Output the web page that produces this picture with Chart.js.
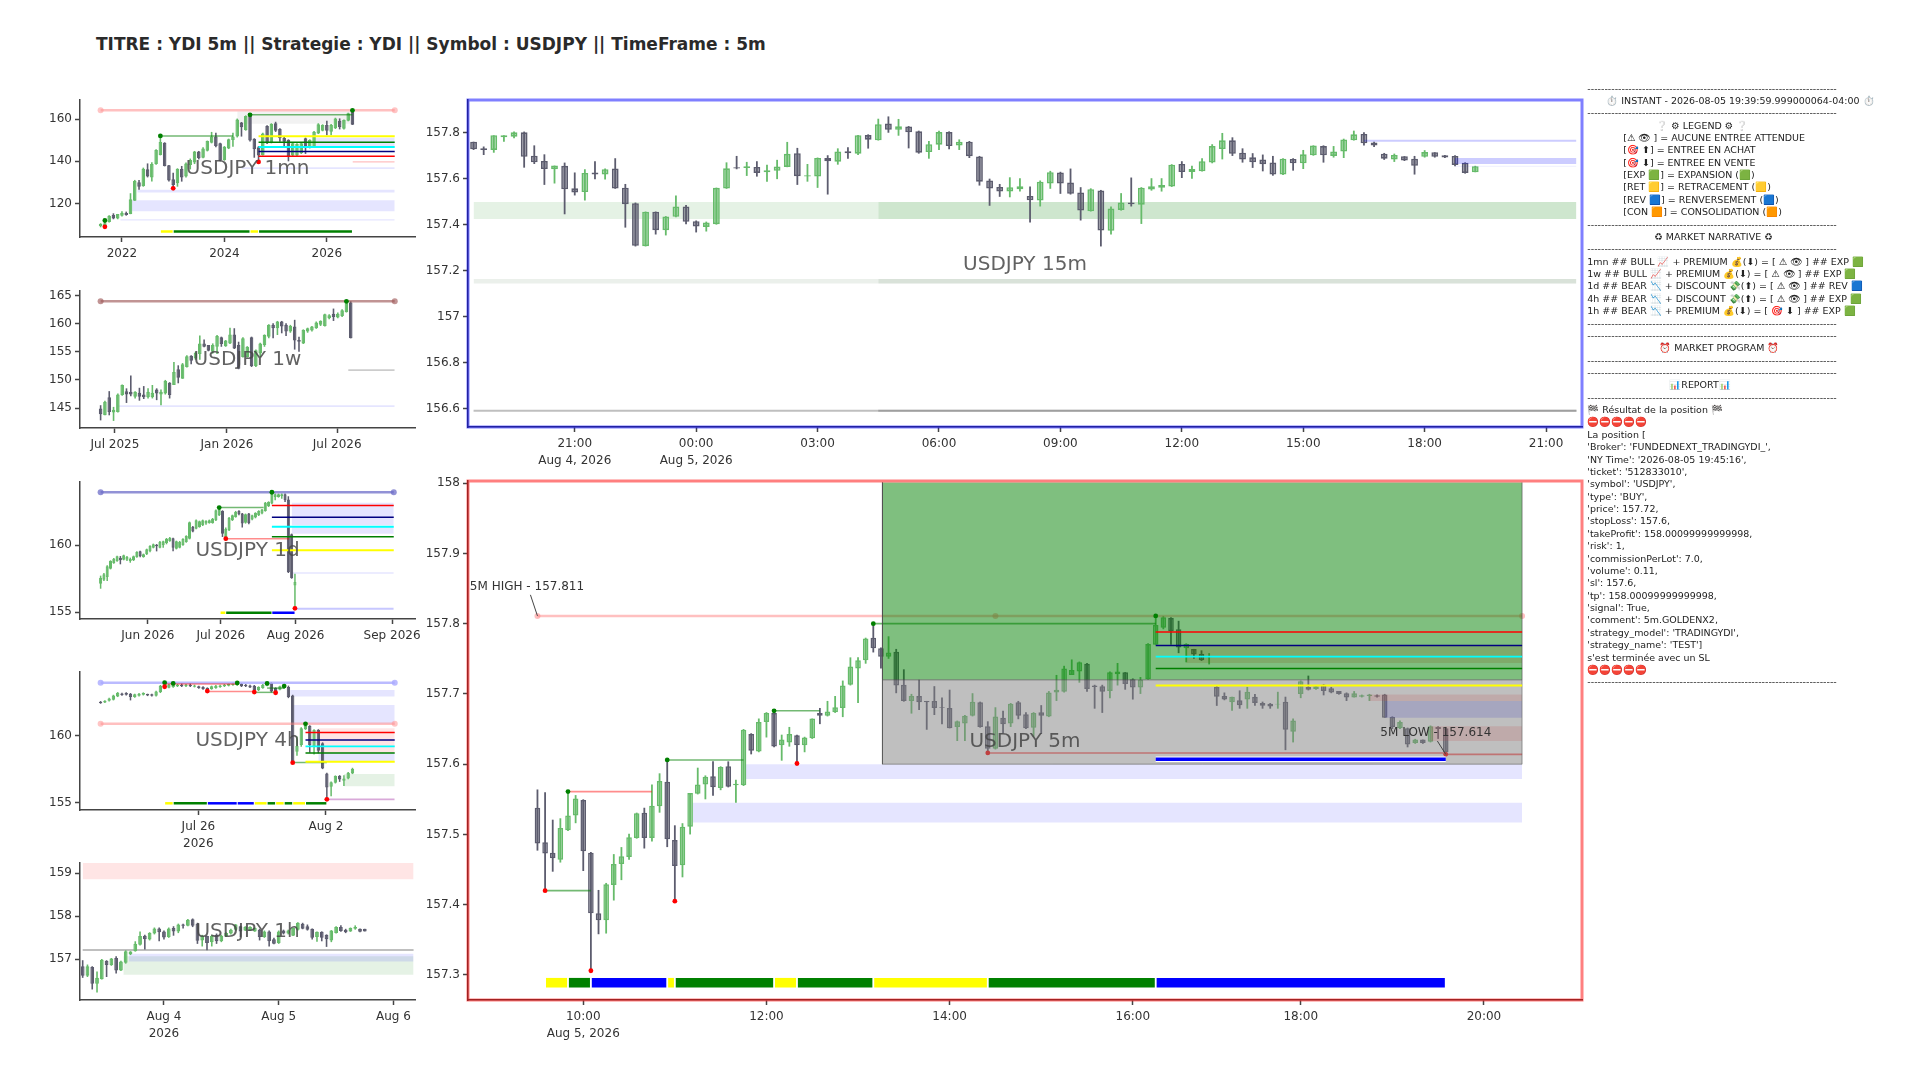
<!DOCTYPE html>
<html>
<head>
<meta charset="utf-8">
<title>USDJPY 5m</title>
<script src="https://cdn.jsdelivr.net/npm/chart.js@4/dist/chart.umd.js"></script>
<style>
  html, body { margin: 0; background: #fff; }
  body { position: relative; width: 1920px; height: 1080px; overflow: hidden; font-family: "DejaVu Sans", sans-serif; }
  canvas { position: absolute; }
  #title { position: absolute; left: 96px; top: 34px; font-size: 17px; font-weight: bold; color: #2a2a2a; white-space: nowrap; }
  .panel { position: absolute; font-size: 9.47px; line-height: 12px; color: #222; white-space: pre; }
</style>
</head>
<body>
<div id="title">TITRE : YDI 5m || Strategie : YDI || Symbol : USDJPY || TimeFrame : 5m</div>
<canvas id="c1mn"></canvas>
<canvas id="c1w"></canvas>
<canvas id="c1d"></canvas>
<canvas id="c4h"></canvas>
<canvas id="c1h"></canvas>
<canvas id="c15m"></canvas>
<canvas id="c5m"></canvas>
<script>
// ---------- 15m ----------
const m15Open = [157.762,157.733,157.726,157.781,157.784,157.803,157.701,157.678,157.642,157.657,157.559,157.543,157.628,157.619,157.645,157.562,157.494,157.307,157.457,157.377,157.435,157.48,157.416,157.391,157.403,157.558,157.651,157.648,157.652,157.629,157.635,157.652,157.712,157.61,157.61,157.691,157.675,157.72,157.71,157.791,157.768,157.841,157.814,157.828,157.807,157.717,157.749,157.804,157.745,157.762,157.697,157.593,157.565,157.545,157.555,157.526,157.506,157.58,157.628,157.584,157.541,157.459,157.549,157.374,157.465,157.497,157.488,157.554,157.562,157.567,157.665,157.63,157.633,157.671,157.73,157.768,157.714,157.694,157.684,157.671,157.619,157.687,157.668,157.703,157.743,157.7,157.719,157.768,157.796,157.759,157.71,157.684,157.699,157.688,157.696,157.716,157.703,157.7,157.67,157.629];
const m15High = [157.762,157.741,157.79,157.79,157.806,157.806,157.746,157.707,157.658,157.671,157.628,157.642,157.677,157.645,157.69,157.578,157.497,157.458,157.458,157.438,157.528,157.486,157.419,157.414,157.562,157.672,157.7,157.674,157.677,157.662,157.683,157.761,157.735,157.665,157.693,157.703,157.733,157.738,157.791,157.794,157.862,157.872,157.861,157.83,157.81,157.765,157.81,157.807,157.772,157.765,157.7,157.601,157.578,157.607,157.603,157.567,157.593,157.635,157.631,157.645,157.564,157.559,157.552,157.48,157.538,157.606,157.564,157.603,157.603,157.664,157.677,157.657,157.69,157.751,157.8,157.781,157.733,157.712,157.706,157.7,157.69,157.69,157.726,157.746,157.746,157.743,157.775,157.81,157.803,157.762,157.713,157.71,157.699,157.7,157.725,157.716,157.704,157.703,157.672,157.657];
const m15Low = [157.726,157.704,157.714,157.762,157.777,157.649,157.665,157.574,157.58,157.446,157.528,157.506,157.599,157.597,157.557,157.388,157.306,157.306,157.358,157.354,157.433,157.403,157.367,157.371,157.401,157.557,157.642,157.613,157.61,157.588,157.599,157.651,157.574,157.588,157.561,157.532,157.662,157.688,157.704,157.732,157.767,157.801,157.788,157.733,157.71,157.688,157.726,157.729,157.726,157.691,157.571,157.483,157.522,157.52,157.545,157.41,157.48,157.557,157.535,157.532,157.419,157.458,157.306,157.358,157.462,157.48,157.404,157.549,157.545,157.565,157.604,157.601,157.632,157.668,157.685,157.7,157.671,157.648,157.633,157.614,157.617,157.636,157.643,157.701,157.671,157.693,157.691,157.767,157.745,157.739,157.683,157.674,157.678,157.619,157.693,157.693,157.691,157.655,157.623,157.629];
const m15Close = [157.729,157.726,157.79,157.79,157.803,157.696,157.672,157.643,157.658,157.555,157.541,157.626,157.619,157.642,157.558,157.49,157.309,157.457,157.377,157.436,157.48,157.413,157.393,157.41,157.561,157.646,157.645,157.655,157.626,157.638,157.654,157.709,157.612,157.616,157.691,157.677,157.719,157.712,157.79,157.771,157.838,157.814,157.829,157.803,157.714,157.751,157.804,157.743,157.762,157.699,157.588,157.558,157.545,157.564,157.568,157.507,157.588,157.629,157.58,157.535,157.462,157.555,157.375,157.471,157.497,157.49,157.562,157.568,157.574,157.662,157.63,157.643,157.677,157.743,157.768,157.709,157.684,157.672,157.664,157.619,157.688,157.668,157.707,157.745,157.703,157.719,157.772,157.794,157.755,157.745,157.688,157.704,157.68,157.657,157.717,157.696,157.693,157.661,157.626,157.655];
const m15XTicks = [10,22,34,46,58,70,82,94,106];
const m15XLabels = [['21:00','Aug 4, 2026'],['00:00','Aug 5, 2026'],'03:00','06:00','09:00','12:00','15:00','18:00','21:00'];
const m15YTicks = [157.8,157.6,157.4,157.2,157,156.8,156.6];
const m15GreenZones = [[0,109,157.5,157.426],[40,109,157.5,157.426]];
const m15StripZones = [[0,109,157.164,157.145],[40,109,157.164,157.145]];
const m15BlueZones = [[88,109,157.77,157.762],[97,109,157.691,157.665]];
const m15PaleZones = [[97,109,157.657,157.652]];
const m15GrayLines = [[0,109,156.591],[40,109,156.591]];

// ---------- 5m ----------
const m5First = -6;
const m5Open = [157.538,157.489,157.474,157.464,157.506,157.527,157.549,157.474,157.388,157.378,157.428,157.458,157.468,157.495,157.531,157.495,157.54,157.575,157.492,157.456,157.511,157.558,157.571,157.583,157.566,157.597,157.57,157.57,157.643,157.618,157.66,157.673,157.627,157.631,157.641,157.627,157.637,157.673,157.669,157.674,157.68,157.713,157.736,157.748,157.78,157.765,157.753,157.76,157.713,157.69,157.697,157.69,157.69,157.681,157.68,157.653,157.658,157.669,157.688,157.654,157.622,157.666,157.658,157.688,157.671,157.652,157.674,157.668,157.702,157.703,157.727,157.732,157.743,157.712,157.711,157.704,157.728,157.731,157.721,157.709,157.721,157.77,157.794,157.808,157.792,157.765,157.764,157.757,157.752,157.71,157.697,157.688,157.691,157.692,157.696,157.687,157.686,157.685,157.689,157.646,157.7,157.71,157.707,157.713,157.708,157.704,157.701,157.695,157.696,157.697,157.698,157.699,157.667,157.651,157.651,157.63,157.635,157.632,157.653,157.651];
const m5High = [157.564,157.56,157.521,157.523,157.561,157.556,157.55,157.475,157.421,157.431,157.472,157.482,157.501,157.531,157.538,157.571,157.587,157.606,157.513,157.516,157.559,157.595,157.584,157.604,157.597,157.604,157.578,157.65,157.644,157.665,157.674,157.676,157.642,157.653,157.642,157.639,157.665,157.68,157.69,157.697,157.719,157.752,157.752,157.78,157.8,157.766,157.782,157.764,157.735,157.7,157.72,157.69,157.711,157.695,157.706,157.662,157.67,157.701,157.689,157.661,157.681,157.676,157.687,157.69,157.674,157.674,157.684,157.704,157.727,157.74,157.749,157.746,157.744,157.713,157.713,157.732,157.744,157.731,157.722,157.724,157.772,157.811,157.811,157.809,157.804,157.772,157.764,157.762,157.758,157.711,157.702,157.696,157.705,157.71,157.7,157.689,157.687,157.703,157.696,157.665,157.719,157.726,157.712,157.714,157.71,157.704,157.702,157.704,157.699,157.7,157.699,157.7,157.668,157.662,157.652,157.636,157.635,157.655,157.654,157.653];
const m5Low = [157.477,157.42,157.447,157.46,157.505,157.516,157.448,157.306,157.358,157.359,157.406,157.435,157.464,157.494,157.48,157.49,157.531,157.482,157.405,157.439,157.5,157.557,157.55,157.555,157.563,157.567,157.545,157.569,157.614,157.617,157.638,157.624,157.605,157.625,157.601,157.617,157.636,157.657,157.668,157.673,157.667,157.712,157.687,157.743,157.759,157.736,157.75,157.701,157.689,157.672,157.677,157.649,157.67,157.657,157.651,157.633,157.633,157.668,157.652,157.616,157.621,157.644,157.653,157.664,157.65,157.639,157.643,157.667,157.69,157.702,157.727,157.716,157.703,157.679,157.673,157.694,157.712,157.706,157.692,157.7,157.72,157.77,157.792,157.77,157.758,157.745,157.75,157.747,157.742,157.683,157.691,157.676,157.679,157.679,157.683,157.679,157.679,157.679,157.62,157.631,157.694,157.705,157.706,157.698,157.701,157.699,157.69,157.695,157.695,157.69,157.695,157.666,157.65,157.65,157.624,157.629,157.629,157.631,157.636,157.614];
const m5Close = [157.487,157.473,157.466,157.509,157.527,157.551,157.476,157.388,157.378,157.429,157.458,157.469,157.496,157.53,157.495,157.541,157.576,157.493,157.455,157.511,157.559,157.571,157.582,157.567,157.596,157.568,157.572,157.649,157.619,157.66,157.673,157.625,157.635,157.643,157.627,157.638,157.665,157.669,157.675,157.681,157.712,157.739,157.748,157.779,157.765,157.753,157.759,157.712,157.69,157.697,157.688,157.688,157.68,157.68,157.651,157.661,157.669,157.689,157.653,157.622,157.668,157.657,157.686,157.669,157.651,157.673,157.669,157.702,157.706,157.736,157.734,157.745,157.707,157.71,157.703,157.731,157.732,157.714,157.709,157.72,157.771,157.798,157.809,157.789,157.766,157.771,157.756,157.748,157.754,157.696,157.692,157.696,157.684,157.703,157.687,157.683,157.682,157.686,157.649,157.662,157.718,157.706,157.711,157.704,157.702,157.7,157.695,157.701,157.698,157.699,157.696,157.666,157.653,157.66,157.628,157.635,157.63,157.654,157.65,157.617];
const m5XTicks = [0,24,48,72,94,118];
const m5XLabels = [['10:00','Aug 5, 2026'],'12:00','14:00','16:00','18:00','20:00'];
const m5YTicks = [158,157.9,157.8,157.7,157.6,157.5,157.4,157.3];
const m5Reward = [39.2,123,158.001,157.72];
const m5Risk = [39.2,123,157.72,157.6];
const m5LavZones = [[21.3,123,157.6,157.579],[14.3,123,157.545,157.517]];
const m5RedZones = [[79,123,157.769,157.744],[103,123,157.699,157.69],[111,123,157.654,157.633]];
const m5BlueZones = [[105,123,157.69,157.666]];
const m5HighLine = [-6,123,157.811];
const m5HighDots = [[-6,157.811],[54,157.811],[123,157.811]];
const m5LowLine = [[53,113,157.616],[113,123,157.614]];
const m5GreenLines = [[-5,1,157.42],[11,21,157.606],[25,31,157.676],[38,75,157.8]];
const m5RedLines = [[-2,9,157.561]];
const m5GreenDots = [[-2,157.561],[11,157.606],[25,157.676],[38,157.8],[75,157.811]];
const m5RedDots = [[-5,157.42],[1,157.306],[12,157.405],[28,157.601],[53,157.616],[113,157.614]];
const m5Levels = [157.788,157.769,157.753,157.736,157.712];
const m5Segments = [[-5,-2],[-2,1],[1,11],[11,12],[12,25],[25,28],[28,38],[38,53],[53,75],[75,113]];
const m5SegKinds = ['y','g','b','y','g','y','g','y','g','b'];
const m5SegPrice = 157.289;
const m5Position = [75,113,157.607];
const m5HighLeader = [[-6.92,157.841],[-6,157.811]];
const m5LowLeader = [[111.9,157.633],[113,157.614]];

// ---------- 1mn ----------
const mnOpen = [109.4,109.4,111.3,114.6,112.9,114.2,115.6,115.1,121.4,130.1,128.3,136.2,132.4,138.7,143,148.8,138.1,131.5,129.6,136.4,132.8,138.3,139.4,144.6,141.7,145,148.8,151.7,148.5,140.6,146.1,150.1,151.7,158.3,154.8,161.9,150.7,146.6,143,156.7,148.8,158,155.3,151,150.1,142.7,142.8,143.8,150.9,146.6,146.6,153.2,154.5,157.2,154,155.6,159.2,155.4,159.2,164.3];
const mnHigh = [110.7,112,114.5,115.4,115.1,116.4,116.2,124.9,131.2,131.2,137,139,139.5,145.7,152,149,138.3,134.6,136.7,137.8,139.4,141.3,144.9,144.9,146.6,149.8,153.9,153.5,148.8,147.2,150.7,153.5,160.2,158.6,161.7,162.4,150.9,147.2,153.5,157,158,158.7,155.6,151.7,150.4,148.8,148.5,148.8,151.2,150.4,154.3,158,157.5,159.2,157.6,160.6,160.3,159.8,163,164.3];
const mnLow = [108.8,109.1,111,112.6,112.6,113.9,114.3,115,121.3,126.5,128,132.4,130.4,138.4,142.8,137.6,130.4,127.2,128,130.4,132.4,136.2,138.7,140.9,141.4,144.7,148.5,146.6,140,140.3,145.8,146.9,151.3,151.7,154.5,149.4,141.7,139.7,142.8,148.2,148.5,153.9,149.3,146.9,140,142.2,142.5,143.5,143.5,146.1,146.3,152.9,154.2,152.3,152.3,155.3,155.1,155.1,158.9,157.2];
const mnClose = [110.4,110.7,114.2,113,115.1,115.7,114.6,122,130.7,128,136.5,132.8,138.7,145.4,149.1,137.8,130.9,128.8,136.4,132.4,139,140.6,144.6,141.4,146.1,149.6,151.7,147.2,140.3,146.9,150.4,151.7,159.8,156.1,161.4,149.8,145.7,142.8,153.2,148.5,157.6,154.5,150.9,149.3,142.5,148.5,148.2,148.5,146.9,150.1,154,157.5,157.2,154.5,157.3,160.3,156.1,159.5,162.7,157.3];
const mnXTicks = [5,29,53];
const mnXLabels = ['2022','2024','2026'];
const mnYTicks = [160,140,120];
const mnGrayZones = [[32,59,163.6,157.8]];
const mnLavZones = [[50,68.9,151.2,146.7],[33,68.9,137.2,136.4],[8.6,68.9,126.5,125.2],[7.3,68.9,121.6,116.4],[4.6,68.9,112.6,112]];
const mnPinkZones = [[59,68.9,140,139.4]];
const mnHighLine = [0,68.9,164.1];
const mnHighDots = [[0,164.1],[68.9,164.1]];
const mnGreenLines = [[14,31,152],[35,59,162]];
const mnGreenDots = [[1,112],[14,152],[35,162],[59,164.1]];
const mnRedDots = [[1,109],[17,127.2],[37,139.7]];
const mnLevels = [142.4,144.7,146.8,149,151.8];
const mnLevelStart = 37;
const mnSegments = [[14,17],[17,35],[35,37],[37,59]];
const mnSegKinds = ['y','g','y','g'];
const mnSegPrice = 106.8;

// ---------- 1w ----------
const wkOpen = [144.9,143.7,146.9,144.2,144.3,147.3,148,147.9,147,147.7,147.4,146.9,146.9,148.3,147.4,147.6,149.5,149.1,151.9,150.2,152.3,154.3,153.8,154.6,156.5,156.2,155,155.9,157.6,156,156.5,158.1,156.2,154.1,154.1,157.6,152.5,154.7,156.2,157.7,159.8,159.2,160.4,159.8,158.6,159.5,157.1,156.5,158.6,158.8,159.2,159.8,159.6,161,161.8,161.1,161.4,162.1,163.8];
const wkHigh = [145.5,146.3,148,145.2,147.6,149.2,148.5,150.8,148,148.6,148.9,148.5,149.1,148.5,148.3,150,149.6,153.2,152.6,153,154.4,154.4,155,157.9,157.2,156.2,156.5,158,157.7,157.1,159.3,159.2,156.8,157.6,156,157.7,155.4,156.6,158.1,159.9,160.1,160.5,160.5,160.1,159.8,160.7,157.7,159,159.3,159.6,160.4,160.6,161.8,161.7,162.7,162,162.6,164.1,164];
const wkLow = [142.8,143.7,143.7,142.7,144.2,147.2,145.9,147.1,146.7,146.3,146.6,146.7,146.7,146.4,145.5,147.4,146.7,149.1,149.4,150.2,152.2,152.8,153.6,153.6,155.8,155.1,154.7,154.6,155.9,155.9,156.4,155.5,151.9,154,154,152.3,152.3,154.1,155.9,157.4,157.4,158,158.3,157.8,158.4,155.4,155,156.4,158.4,158.6,159.1,159.6,159.5,160.8,160.5,161,161.2,162,157.4];
const wkClose = [143.9,146.1,144.3,144.7,147.4,149.1,147.4,147.4,147.9,147,146.9,147.9,147.7,147.6,147.9,149.8,147.3,151.4,150.4,152.8,154.2,153.4,154.8,156.5,155.9,155.2,156.2,157.8,156.4,157,158.1,155.6,152,157.4,155.9,152.5,155.3,156.5,158,159.8,159.2,160.4,159.5,158.6,159.6,157,156.8,158.9,159.2,159.5,160.2,160.5,161.7,161.5,161.2,161.8,162.4,163.9,157.4];
const wkXTicks = [3.32,29.3,54.86];
const wkXLabels = ['Jul 2025','Jan 2026','Jul 2026'];
const wkYTicks = [165,160,155,150,145];
const wkGrayZones = [[57.4,68.2,151.9,151.6]];
const wkLavZones = [[3.8,68.2,145.5,145.2]];
const wkHighLine = [0,68.2,164];
const wkHighDots = [[0,164],[68.2,164]];
const wkGreenDots = [[57,164]];

// ---------- 1d ----------
const dyOpen = [157.13,157.43,157.63,158.25,158.68,158.83,159.08,158.93,158.93,158.83,158.88,159.13,159.55,159.13,159.33,159.55,159.83,160.05,159.83,160,160.18,160.33,160.53,159.75,159.83,160.03,160.25,160.5,161.38,161.25,161.38,161.5,161.63,161.68,161.68,161.88,162.25,162.58,160.5,161.13,161.88,162.13,162.58,162.38,161.7,162.38,161.93,162.08,162.25,162.38,162.58,162.93,163.13,163.63,163.63,163.68,163.83,163.43,160.83,157];
const dyHigh = [157.73,157.93,158.5,158.88,159.05,159.23,159.2,159.3,159.2,159.08,159.23,159.55,159.6,159.38,159.75,160,160.13,160.1,160.33,160.35,160.55,160.63,160.58,160.35,160.33,160.53,160.75,161.78,161.45,161.93,161.85,161.93,161.88,161.93,162.05,162.68,162.83,162.63,161.33,162.13,162.3,162.58,162.63,162.43,162.38,162.43,162.3,162.48,162.63,162.73,163.25,163.3,163.98,163.88,163.88,163.88,163.88,163.68,160.88,157.88];
const dyLow = [156.75,157.33,157.33,158.2,158.63,158.78,158.58,158.88,158.83,158.7,158.83,159.08,159.1,159.08,159.28,159.48,159.78,159.55,159.78,159.83,160.08,160.28,159.55,159.7,159.78,159.98,160.2,160.45,160.98,161.2,161.33,161.45,161.55,161.63,161.63,161.83,162.2,160.63,160.33,161.08,161.83,162.08,162.25,161.33,161.63,161.58,161.88,162.03,162.2,162.33,162.53,162.88,163.08,163.38,163.58,163.5,163.25,157.93,157.5,155.28];
const dyClose = [157.58,157.83,158.43,158.83,159,159.18,158.88,159.25,159.13,159,159.18,159.5,159.18,159.33,159.7,159.95,160.08,159.93,160.25,160.3,160.5,160.55,159.83,160.3,160.25,160.48,160.7,161.73,161.03,161.88,161.8,161.88,161.83,161.88,162,162.63,162.7,160.88,161.25,162.05,162.25,162.5,162.33,161.63,162.33,161.68,162.25,162.43,162.58,162.68,163.2,163.25,163.88,163.83,163.83,163.83,163.38,158,157.55,157.25];
const dyXTicks = [14.34,36.5,59.2,88.5];
const dyXLabels = ['Jun 2026','Jul 2026','Aug 2026','Sep 2026'];
const dyYTicks = [160,155];
const dyLavZones = [[58,89,163.2,161.5],[58,89,161.45,160.88],[58,89,157.98,157.88]];
const dyPurpleZones = [[59,89,155.33,155.18]];
const dyHighLine = [0,89,163.98];
const dyHighDots = [[0,163.98],[89,163.98]];
const dyGreenLines = [[36,49.5,162.83]];
const dyRedLines = [[38,57.3,160.5]];
const dyGreenDots = [[36,162.83],[52,163.98]];
const dyRedDots = [[38,160.5],[59,155.28]];
const dyLevels = [162.98,162.1,161.4,160.65,159.63];
const dyLevelStart = 52;
const dySegments = [[36.3,38],[38,52],[52,59]];
const dySegKinds = ['y','g','b'];
const dySegPrice = 154.95;

// ---------- 4h ----------
const h4Open = [162.53,162.48,162.6,162.68,162.93,163.15,163.18,163.13,162.88,162.98,163.05,163.1,163.08,162.98,163.23,163.58,163.58,163.63,163.68,163.8,163.68,163.8,163.65,163.68,163.63,163.55,163.48,163.55,163.63,163.68,163.73,163.78,163.8,163.88,163.8,163.75,163.73,163.38,163.55,163.73,163.93,163.55,163.43,163.55,163.63,163,158.8,159.3,160.48,160.73,159.18,160.43,159.43,157.18,156.18,156.48,157,156.63,156.8,157.18];
const h4High = [162.58,162.65,162.83,163.05,163.25,163.2,163.23,163.18,163.13,163.18,163.23,163.13,163.13,163.35,163.78,164.08,163.85,163.93,163.85,163.93,163.85,163.93,163.8,163.73,163.68,163.6,163.73,163.78,163.8,163.85,163.9,163.95,164.03,163.93,163.85,163.8,163.78,163.68,163.85,164.03,163.98,163.6,163.73,163.85,163.73,163.05,159.93,160.63,160.88,160.78,160.48,160.48,159.5,157.23,156.58,157.03,157.05,157.05,157.28,157.6];
const h4Low = [162.38,162.43,162.55,162.63,162.88,162.98,163,162.63,162.83,162.93,163,162.95,162.93,162.93,163.18,163.53,163.53,163.58,163.63,163.63,163.63,163.63,163.6,163.5,163.43,163.3,163.43,163.5,163.58,163.63,163.68,163.73,163.75,163.63,163.63,163.55,163.25,163.33,163.5,163.68,163.23,163.2,163.38,163.5,162.8,157.98,158.5,159.18,160.43,158.73,158.6,158.68,157.5,155.25,155.48,156.43,156.55,156.25,156.75,157.13];
const h4Close = [162.43,162.6,162.78,163,163.2,163.03,163.05,162.88,163.08,163.13,163.18,163,162.98,163.3,163.73,163.78,163.8,163.8,163.8,163.68,163.8,163.68,163.75,163.55,163.48,163.3,163.68,163.73,163.75,163.8,163.85,163.9,163.98,163.68,163.68,163.6,163.38,163.63,163.8,163.98,163.3,163.3,163.68,163.8,162.88,158,159.23,160.55,160.73,159.3,160.43,158.88,157.55,156.13,156.53,156.98,156.73,156.8,157.23,157.53];
const h4XTicks = [22.9,52.8];
const h4XLabels = [['Jul 26','2026'],'Aug 2'];
const h4YTicks = [160,155];
const h4LavZones = [[44.4,68.9,163.4,162.93],[45,68.9,162.28,160.88],[51,68.9,158.73,158.05]];
const h4PinkZones = [[51,68.9,160.55,158.73]];
const h4GreenZones = [[57,68.9,157.13,156.23]];
const h4PurpleZones = [[53,68.9,155.3,155.18]];
const h4BlueLine = [0,68.9,163.95];
const h4BlueDots = [[0,163.95],[68.9,163.95]];
const h4PinkLine = [0,68.9,160.88];
const h4PinkDots = [[0,160.88],[68.9,160.88]];
const h4GreenLines = [[36,41,163.23],[39,43,163.55],[45,53,158]];
const h4RedLines = [[15,32,163.85],[25,36,163.3]];
const h4GreenDots = [[15,163.95],[17,163.9],[32,163.93],[39,163.9],[43,163.7],[48,160.88]];
const h4RedDots = [[15,163.65],[25,163.33],[36,163.25],[41,163.2],[45,157.98],[53,155.25]];
const h4Levels = [160.23,159.68,159.2,158.7,158.05];
const h4LevelStart = 48;
const h4Segments = [[15,17],[17,25],[25,32],[32,36],[36,39],[39,41],[41,43],[43,45],[45,48],[48,53]];
const h4SegKinds = ['y','g','b','b','y','g','y','g','y','g'];
const h4SegPrice = 154.95;

// ---------- 1h ----------
const h1Open = [156.84,156.62,156.82,156.43,156.54,156.96,156.87,157.03,156.74,156.92,157.12,157.19,157.34,157.55,157.46,157.6,157.72,157.65,157.52,157.73,157.65,157.81,157.78,157.93,157.83,157.44,157.54,157.4,157.57,157.42,157.54,157.6,157.69,157.77,157.67,157.67,157.65,157.69,157.52,157.65,157.47,157.38,157.67,157.6,157.55,157.69,157.83,157.77,157.71,157.52,157.64,157.57,157.44,157.61,157.75,157.69,157.65,157.71,157.71,157.71];
const h1High = [156.98,156.88,156.84,156.72,157.01,156.98,157.03,157.07,156.97,157.21,157.19,157.42,157.65,157.57,157.63,157.74,157.74,157.67,157.74,157.77,157.83,157.83,157.94,157.95,157.85,157.57,157.55,157.57,157.6,157.57,157.63,157.71,157.82,157.78,157.77,157.77,157.74,157.71,157.67,157.67,157.5,157.67,157.69,157.69,157.74,157.86,157.85,157.81,157.72,157.65,157.65,157.58,157.68,157.77,157.79,157.71,157.74,157.79,157.72,157.71];
const h1Low = [156.57,156.59,156.3,156.23,156.53,156.59,156.85,156.67,156.73,156.9,157.1,157.18,157.32,157.23,157.44,157.58,157.42,157.46,157.5,157.55,157.61,157.72,157.77,157.75,157.36,157.3,157.21,157.3,157.36,157.4,157.52,157.58,157.67,157.52,157.66,157.66,157.64,157.44,157.5,157.3,157.35,157.36,157.58,157.58,157.54,157.67,157.7,157.67,157.46,157.41,157.42,157.29,157.4,157.6,157.64,157.61,157.64,157.69,157.63,157.65];
const h1Close = [156.62,156.84,156.43,156.57,156.99,156.87,157.02,156.74,156.95,157.19,157.18,157.36,157.54,157.47,157.61,157.72,157.63,157.51,157.72,157.65,157.81,157.78,157.92,157.78,157.43,157.54,157.38,157.55,157.42,157.55,157.61,157.69,157.81,157.65,157.75,157.75,157.73,157.52,157.65,157.42,157.36,157.65,157.6,157.67,157.73,157.85,157.71,157.69,157.5,157.64,157.5,157.47,157.67,157.75,157.66,157.63,157.73,157.75,157.64,157.65];
const h1XTicks = [17,41,65];
const h1XLabels = [['Aug 4','2026'],'Aug 5','Aug 6'];
const h1YTicks = [159,158,157];
const h1PinkZones = [[0,69.2,159.24,158.86]];
const h1GreenZones = [[8.5,69.2,157.07,156.64]];
const h1LavZones = [[9.6,69.2,157.13,156.95]];
const h1GrayLines = [[0,69.2,157.22]];

// ---------- side panel ----------
const dashes = '-------------------------------------------------------------------------';
const panelLines = [
  [0, dashes],
  [19, '⏱️ INSTANT - 2026-08-05 19:39:59.999000064-04:00 ⏱️'],
  [0, dashes],
  [69, '❔ ⚙ LEGEND ⚙ ❔'],
  [36, '[⚠ 👁 ] = AUCUNE ENTREE ATTENDUE'],
  [36, '[🎯 ⬆] = ENTREE EN ACHAT'],
  [36, '[🎯 ⬇] = ENTREE EN VENTE'],
  [36, '[EXP 🟩] = EXPANSION (🟩)'],
  [36, '[RET 🟨] = RETRACEMENT (🟨)'],
  [36, '[REV 🟦] = RENVERSEMENT (🟦)'],
  [36, '[CON 🟧] = CONSOLIDATION (🟧)'],
  [0, dashes],
  [67, '♻ MARKET NARRATIVE ♻'],
  [0, dashes],
  [0, '1mn ## BULL 📈 + PREMIUM 💰(⬇) = [ ⚠ 👁 ] ## EXP 🟩'],
  [0, '1w ## BULL 📈 + PREMIUM 💰(⬇) = [ ⚠ 👁 ] ## EXP 🟩'],
  [0, '1d ## BEAR 📉 + DISCOUNT 💸(⬆) = [ ⚠ 👁 ] ## REV 🟦'],
  [0, '4h ## BEAR 📉 + DISCOUNT 💸(⬆) = [ ⚠ 👁 ] ## EXP 🟩'],
  [0, '1h ## BEAR 📉 + PREMIUM 💰(⬇) = [ 🎯 ⬇ ] ## EXP 🟩'],
  [0, dashes],
  [0, dashes],
  [72, '⏰ MARKET PROGRAM ⏰'],
  [0, dashes],
  [0, dashes],
  [82, '📊REPORT📊'],
  [0, dashes],
  [0, '🏁 Résultat de la position 🏁'],
  [0, '⛔⛔⛔⛔⛔'],
  [0, 'La position ['],
  [0, "'Broker': 'FUNDEDNEXT_TRADINGYDI_',"],
  [0, "'NY Time': '2026-08-05 19:45:16',"],
  [0, "'ticket': '512833010',"],
  [0, "'symbol': 'USDJPY',"],
  [0, "'type': 'BUY',"],
  [0, "'price': 157.72,"],
  [0, "'stopLoss': 157.6,"],
  [0, "'takeProfit': 158.00099999999998,"],
  [0, "'risk': 1,"],
  [0, "'commissionPerLot': 7.0,"],
  [0, "'volume': 0.11,"],
  [0, "'sl': 157.6,"],
  [0, "'tp': 158.00099999999998,"],
  [0, "'signal': True,"],
  [0, "'comment': 5m.GOLDENX2,"],
  [0, "'strategy_model': 'TRADINGYDI',"],
  [0, "'strategy_name': 'TEST']"],
  [0, "s'est terminée avec un SL"],
  [0, '⛔⛔⛔⛔⛔'],
  [0, dashes]
];
panelLines.forEach(([offset, text], n) => {
  const el = document.createElement('div');
  el.className = 'panel';
  el.style.left = (1587.3 + offset) + 'px';
  el.style.top = (88.5 + 12.37 * n - 6) + 'px';
  el.textContent = text;
  document.body.appendChild(el);
});

// Styles
const upLine = '#66bb6a', upFill = 'rgba(102,187,106,0.6)';
const downLine = '#5c5c6e', downFill = 'rgba(92,92,110,0.6)';
const greenZone = 'rgba(0,128,0,0.1)', lavZone = 'rgba(0,0,255,0.1)', pinkZone = 'rgba(255,0,0,0.1)', grayZone = 'rgba(128,128,128,0.1)';
const levelColors = ['#ff0000', '#000080', '#00ffff', '#008000', '#ffff00'];
const levelWidths = [1.5, 1.5, 1.9, 1.5, 2];
const segColors = { y: '#ffff00', g: '#008000', b: '#0000ff' };
const structGreen = 'rgba(0,128,0,0.55)', structRed = 'rgba(255,0,0,0.45)', dotGreen = '#008000', dotRed = '#ff0000';
const highPink = 'rgba(255,130,130,0.5)';

Chart.defaults.font.family = '"DejaVu Sans", sans-serif';
Chart.defaults.font.size = 12;
Chart.defaults.color = '#333';

// Dataset helpers
function candleSets(open, high, low, close, first, bodyW, wickW, borderW) {
  const up = open.map((o, i) => close[i] >= o);
  return [
    { type: 'bar', grouped: false, barThickness: wickW, inflateAmount: 0,
      data: open.map((o, i) => ({ x: first + i, y: [low[i], high[i]] })),
      backgroundColor: up.map(u => u ? upLine : downLine), borderWidth: 0 },
    { type: 'bar', grouped: false, barThickness: bodyW, inflateAmount: 0, borderSkipped: false,
      data: open.map((o, i) => ({ x: first + i, y: [Math.min(o, close[i]), Math.max(o, close[i])] })),
      backgroundColor: up.map(u => u ? upFill : downFill),
      borderColor: up.map(u => u ? upLine : downLine), borderWidth: borderW }
  ];
}
function lineSet(points, color, width) {
  return { type: 'line', data: points, borderColor: color, borderWidth: width, pointRadius: 0, tension: 0, fill: false, borderCapStyle: 'butt' };
}
function hLine([x0, x1, y], color, width) {
  return lineSet([{ x: x0, y }, { x: x1, y }], color, width);
}
function zone([x0, x1, y0, y1], color) {
  const ds = lineSet([{ x: x0, y: y0 }, { x: x1, y: y0 }], 'rgba(0,0,0,0)', 0);
  ds.fill = { value: y1 };
  ds.backgroundColor = color;
  return ds;
}
// Sides and bottom of a box, the top edge of the reward box sits on the frame
function outline([x0, x1, y0, y1], color, width) {
  return lineSet([{ x: x0, y: y0 }, { x: x0, y: y1 }, { x: x1, y: y1 }, { x: x1, y: y0 }], color, width);
}
function dots(list, color, radius) {
  return { type: 'line', showLine: false, data: list.map(([x, y]) => ({ x, y })), pointRadius: radius,
    pointBackgroundColor: color, pointBorderWidth: 0, borderColor: color, backgroundColor: color };
}
function levelSets(prices, x0, x1) {
  return prices.map((p, i) => hLine([x0, x1, p], levelColors[i], levelWidths[i]));
}
function segmentSets(segments, kinds, price, width) {
  return segments.map(([a, b], i) => hLine([a + 0.12, b - 0.12, price], segColors[kinds[i]], width));
}

// Axis labels, watermark and frame are drawn against the chart's scales
function decoration(mark, markY, notes, frame) {
  return {
    id: 'decoration',
    afterDatasetsDraw(chart) {
      const { ctx, chartArea: a, scales } = chart;
      ctx.save();
      ctx.textAlign = 'center';
      ctx.textBaseline = 'middle';
      ctx.font = '20px "DejaVu Sans"';
      ctx.fillStyle = 'rgba(70,70,70,0.85)';
      ctx.fillText(mark, (a.left + a.right) / 2, a.top + markY);
      ctx.font = '12px "DejaVu Sans"';
      ctx.fillStyle = '#333';
      notes.forEach(n => ctx.fillText(n.text, scales.x.getPixelForValue(n.x), scales.y.getPixelForValue(n.y)));
      if (frame) {
        ctx.lineWidth = 3;
        ctx.strokeStyle = frame;
        ctx.strokeRect(a.left, a.top, a.right - a.left, a.bottom - a.top);
      }
      ctx.restore();
    }
  };
}

function makeChart(id, box, xRange, yRange, xTicks, xLabels, yTicks, datasets, mark, markY, notes, frame) {
  const padTop = 12, padRight = 30, yAxisW = 46, xAxisH = 44;
  const canvas = document.getElementById(id);
  canvas.width = yAxisW + box.w + padRight;
  canvas.height = padTop + box.h + xAxisH;
  canvas.style.left = (box.left - yAxisW) + 'px';
  canvas.style.top = (box.top - padTop) + 'px';
  datasets.forEach((ds, i) => { ds.order = 1000 - i; });
  const axisBase = {
    type: 'linear',
    offset: false,
    grid: { offset: false, drawOnChartArea: false, drawTicks: true, tickLength: 5, tickColor: '#444', tickWidth: 1.5 },
    border: { display: true, color: '#444', width: 1.5 }
  };
  return new Chart(canvas, {
    type: 'line',
    data: { datasets },
    options: {
      responsive: false, animation: false, devicePixelRatio: 1, events: [],
      layout: { padding: { top: padTop, right: padRight, left: 0, bottom: 0 } },
      plugins: { legend: { display: false }, tooltip: { enabled: false } },
      scales: {
        x: Object.assign({}, axisBase, {
          min: xRange[0], max: xRange[1],
          afterBuildTicks: s => { s.ticks = xTicks.map(value => ({ value })); },
          afterFit: s => { s.height = xAxisH; },
          ticks: { autoSkip: false, maxRotation: 0, minRotation: 0, padding: 4, color: '#333',
            font: { size: 12, lineHeight: 1.38 }, callback: (v, i) => xLabels[i] }
        }),
        y: Object.assign({}, axisBase, {
          min: yRange[0], max: yRange[1],
          afterBuildTicks: s => { s.ticks = yTicks.map(value => ({ value })); },
          afterFit: s => { s.width = yAxisW; },
          ticks: { autoSkip: false, padding: 3, color: '#333', font: { size: 12 }, callback: v => String(v) }
        })
      }
    },
    plugins: [decoration(mark, markY, notes || [], frame)]
  });
}

// 15m
makeChart('c15m', { left: 468, top: 100, w: 1114, h: 327 }, [-0.55, 109.55], [156.52, 157.9435], m15XTicks, m15XLabels, m15YTicks, [
  ...m15GreenZones.map(z => zone(z, greenZone)),
  ...m15StripZones.map(z => zone(z, 'rgba(60,110,60,0.1)')),
  ...m15GrayLines.map(l => hLine(l, 'rgba(128,128,128,0.5)', 2)),
  ...candleSets(m15Open, m15High, m15Low, m15Close, 0, 6.8, 1.8, 1.6),
  ...m15BlueZones.map(z => zone(z, 'rgba(0,0,255,0.2)')),
  ...m15PaleZones.map(z => zone(z, 'rgba(0,0,255,0.05)'))
], 'USDJPY 15m', 165, [], 'rgba(0,0,255,0.5)');

// 5m
makeChart('c5m', { left: 468, top: 481, w: 1114, h: 519 }, [-15.1, 130.85], [157.2644, 158.003], m5XTicks, m5XLabels, m5YTicks, [
  ...m5LavZones.map(z => zone(z, lavZone)),
  ...candleSets(m5Open, m5High, m5Low, m5Close, m5First, 5.6, 1.8, 1.5),
  hLine(m5HighLine, highPink, 2.5),
  dots(m5HighDots, 'rgba(255,130,130,0.5)', 3),
  ...m5LowLine.map(l => hLine(l, 'rgba(255,0,0,0.6)', 1.6)),
  ...m5GreenLines.map(l => hLine(l, structGreen, 1.6)),
  ...m5RedLines.map(l => hLine(l, structRed, 1.6)),
  dots(m5GreenDots, dotGreen, 2.4),
  dots(m5RedDots, dotRed, 2.4),
  ...m5RedZones.map(z => zone(z, 'rgba(255,0,0,0.17)')),
  ...m5BlueZones.map(z => zone(z, 'rgba(0,0,255,0.2)')),
  zone(m5Reward, 'rgba(0,128,0,0.5)'),
  zone(m5Risk, 'rgba(128,128,128,0.5)'),
  outline(m5Reward, 'rgba(70,70,70,0.6)', 1),
  outline(m5Risk, 'rgba(70,70,70,0.5)', 1),
  ...levelSets(m5Levels, 75, 123),
  hLine(m5Position, '#ffffff', 5.5),
  hLine(m5Position, '#0000ff', 3.4),
  ...segmentSets(m5Segments, m5SegKinds, m5SegPrice, 9.6),
  lineSet(m5HighLeader.map(([x, y]) => ({ x, y })), '#444', 1),
  lineSet(m5LowLeader.map(([x, y]) => ({ x, y })), '#444', 1)
], 'USDJPY 5m', 260.5, [
  { text: '5M HIGH - 157.811', x: -7.37, y: 157.853 },
  { text: '5M LOW - 157.614', x: 111.7, y: 157.645 }
], 'rgba(255,0,0,0.5)');

// 1mn
makeChart('c1mn', { left: 80, top: 100, w: 335, h: 137 }, [-4.83, 73.65], [104.2, 169], mnXTicks, mnXLabels, mnYTicks, [
  ...mnGrayZones.map(z => zone(z, grayZone)),
  ...mnLavZones.map(z => zone(z, lavZone)),
  ...mnPinkZones.map(z => zone(z, 'rgba(255,0,0,0.25)')),
  ...candleSets(mnOpen, mnHigh, mnLow, mnClose, 0, 3.6, 1.6, 1.2),
  hLine(mnHighLine, highPink, 2.5),
  dots(mnHighDots, 'rgba(255,150,150,0.55)', 3),
  ...mnGreenLines.map(l => hLine(l, structGreen, 1.5)),
  ...levelSets(mnLevels, mnLevelStart, 68.9),
  ...segmentSets(mnSegments, mnSegKinds, mnSegPrice, 2.5),
  dots(mnGreenDots, dotGreen, 2.4),
  dots(mnRedDots, dotRed, 2.4)
], 'USDJPY 1mn', 69.2);

// 1w
makeChart('c1w', { left: 80, top: 291, w: 335, h: 137 }, [-4.78, 72.9], [141.44, 165.83], wkXTicks, wkXLabels, wkYTicks, [
  ...wkGrayZones.map(z => zone(z, 'rgba(128,128,128,0.4)')),
  ...wkLavZones.map(z => zone(z, lavZone)),
  ...candleSets(wkOpen, wkHigh, wkLow, wkClose, 0, 3.6, 1.6, 1.2),
  hLine(wkHighLine, 'rgba(160,90,90,0.65)', 2.5),
  dots(wkHighDots, 'rgba(160,90,90,0.65)', 3),
  dots(wkGreenDots, dotGreen, 2.4)
], 'USDJPY 1w', 69.2);

// 1d
makeChart('c1d', { left: 80, top: 482, w: 335, h: 137 }, [-6.26, 95.45], [154.48, 164.75], dyXTicks, dyXLabels, dyYTicks, [
  ...dyLavZones.map(z => zone(z, lavZone)),
  ...dyPurpleZones.map(z => zone(z, 'rgba(0,0,255,0.22)')),
  ...candleSets(dyOpen, dyHigh, dyLow, dyClose, 0, 3.1, 1.5, 1.1),
  hLine(dyHighLine, 'rgba(110,110,200,0.75)', 2.5),
  dots(dyHighDots, 'rgba(110,110,200,0.75)', 3),
  ...dyGreenLines.map(l => hLine(l, structGreen, 1.5)),
  ...dyRedLines.map(l => hLine(l, structRed, 1.5)),
  ...levelSets(dyLevels, dyLevelStart, 89),
  ...segmentSets(dySegments, dySegKinds, dySegPrice, 2.5),
  dots(dyGreenDots, dotGreen, 2.4),
  dots(dyRedDots, dotRed, 2.4)
], 'USDJPY 1d', 69.2);

// 4h
makeChart('c4h', { left: 80, top: 672, w: 335, h: 138 }, [-4.83, 73.65], [154.45, 164.75], h4XTicks, h4XLabels, h4YTicks, [
  ...h4LavZones.map(z => zone(z, lavZone)),
  ...h4PinkZones.map(z => zone(z, pinkZone)),
  ...h4GreenZones.map(z => zone(z, greenZone)),
  ...h4PurpleZones.map(z => zone(z, 'rgba(160,40,160,0.4)')),
  ...candleSets(h4Open, h4High, h4Low, h4Close, 0, 3.4, 1.5, 1.1),
  hLine(h4BlueLine, 'rgba(170,170,255,0.8)', 2.5),
  dots(h4BlueDots, 'rgba(170,170,255,0.8)', 3),
  hLine(h4PinkLine, highPink, 2.5),
  dots(h4PinkDots, 'rgba(255,150,150,0.55)', 3),
  ...h4GreenLines.map(l => hLine(l, structGreen, 1.5)),
  ...h4RedLines.map(l => hLine(l, structRed, 1.5)),
  ...levelSets(h4Levels, h4LevelStart, 68.9),
  ...segmentSets(h4Segments, h4SegKinds, h4SegPrice, 2.5),
  dots(h4GreenDots, dotGreen, 2.4),
  dots(h4RedDots, dotRed, 2.4)
], 'USDJPY 4h', 69.2);

// 1h
makeChart('c1h', { left: 80, top: 863, w: 335, h: 137 }, [-0.56, 69.5], [156.055, 159.24], h1XTicks, h1XLabels, h1YTicks, [
  ...h1PinkZones.map(z => zone(z, pinkZone)),
  ...h1GreenZones.map(z => zone(z, greenZone)),
  ...h1LavZones.map(z => zone(z, lavZone)),
  ...h1GrayLines.map(l => hLine(l, 'rgba(128,128,128,0.5)', 2)),
  ...candleSets(h1Open, h1High, h1Low, h1Close, 0, 3.8, 1.6, 1.2)
], 'USDJPY 1h', 69.2);
</script>
</body>
</html>
